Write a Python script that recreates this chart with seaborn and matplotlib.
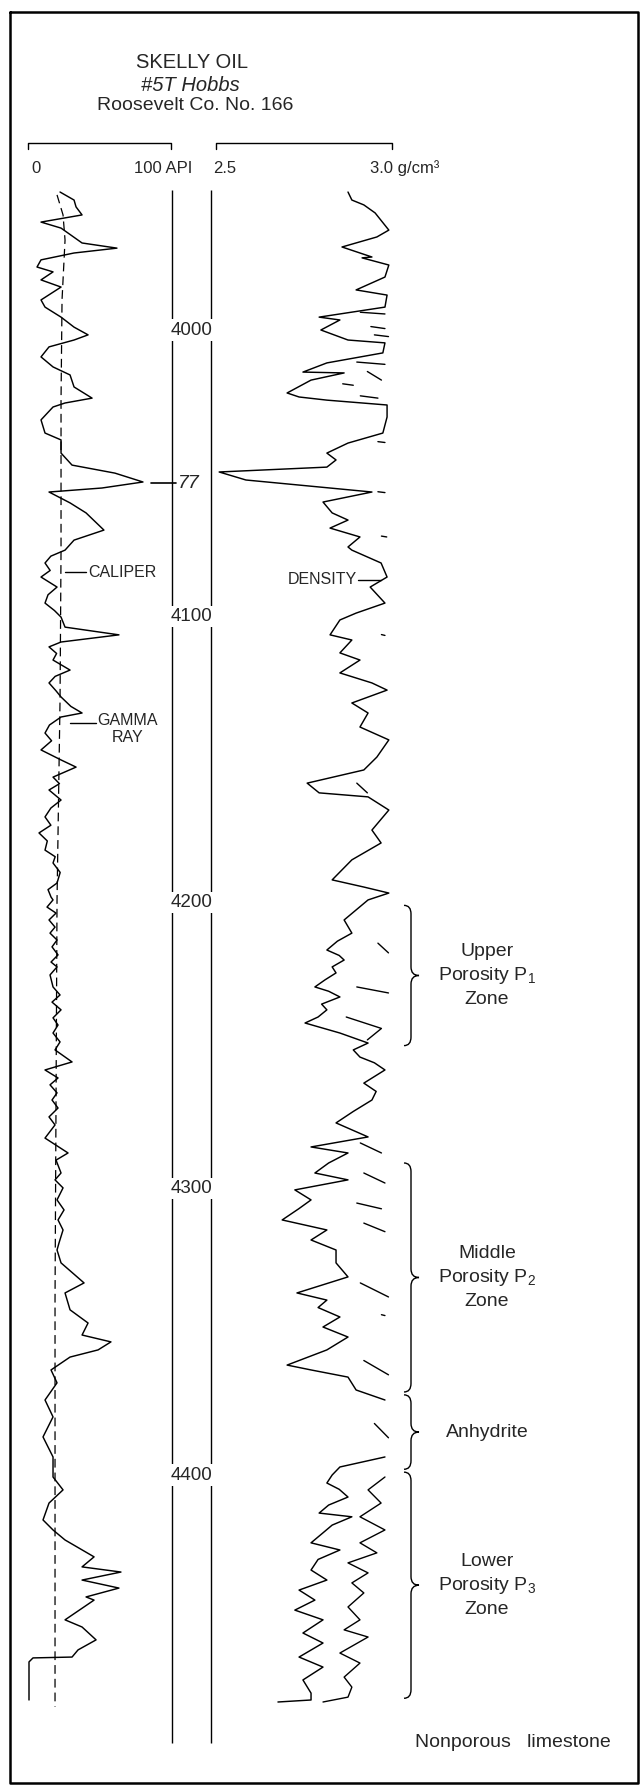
import numpy as np
import pandas as pd
import matplotlib
matplotlib.use("Agg")
import matplotlib.pyplot as plt
import seaborn as sns
from matplotlib.path import Path
from matplotlib.patches import PathPatch

# --- log values (depth in ft) ---
gr_depth = [3951.8, 3954.6, 3957.0, 3959.8, 3962.3, 3964.4, 3969.6, 3971.4, 3973.1, 3975.5,
            3978.0, 3979.7, 3982.5, 3985.0, 3989.5, 3992.0, 3995.5, 3999.0, 4001.7, 4003.5,
            4005.9, 4009.4, 4012.9, 4015.7, 4019.9, 4023.8, 4025.5, 4026.9, 4031.4, 4036.0,
            4038.4, 4043.0, 4047.2, 4050.0, 4053.1, 4055.2, 4056.6, 4060.4, 4063.9, 4069.9,
            4073.4, 4076.9, 4079.0, 4081.4, 4084.0, 4086.3, 4089.8, 4092.5, 4095.4, 4098.0,
            4100.3, 4103.8, 4106.5, 4109.0, 4110.7, 4113.0, 4115.3, 4118.8, 4121.0, 4123.3,
            4126.0, 4128.2, 4131.5, 4133.8, 4135.2, 4138.0, 4140.8, 4143.5, 4146.7, 4150.2,
            4152.7, 4156.2, 4158.5, 4160.7, 4164.2, 4167.0, 4170.1, 4173.0, 4175.7, 4178.5,
            4181.7, 4184.0, 4186.2, 4189.5, 4193.2, 4195.5, 4198.1,
            4199.1, 4201.6, 4203.7, 4206.1, 4208.6, 4210.7, 4213.1, 4215.5, 4218.3, 4220.8,
            4222.5, 4225.3, 4229.5, 4232.3, 4234.8, 4237.5, 4240.3, 4242.8, 4245.6, 4248.7,
            4251.5, 4255.7, 4258.5, 4261.3, 4263.7, 4266.5, 4269.0, 4271.8, 4274.9, 4277.7,
            4282.3, 4287.5, 4290.0, 4294.5, 4296.9, 4299.7, 4303.9, 4307.4, 4310.9, 4314.4,
            4318.9, 4321.4, 4325.9, 4332.9, 4336.4, 4342.3, 4346.9, 4351.1, 4353.5, 4356.3,
            4358.8, 4363.3, 4367.8, 4373.8, 4379.7, 4386.7, 4393.7, 4400.7, 4405.2, 4409.8,
            4415.7, 4419.2, 4422.7, 4428.6, 4432.1, 4433.9, 4436.7, 4439.5, 4442.6, 4443.7,
            4450.6, 4453.1, 4457.6, 4461.1, 4463.6, 4463.9, 4465.3, 4478.6]
gr_api = [22.4, 32.2, 33.6, 37.8, 9.1, 23.1, 37.8, 62.2, 32.2, 9.1,
          6.3, 17.5, 9.1, 23.1, 9.1, 11.9, 23.1, 32.2, 42.0, 32.2,
          14.7, 9.1, 17.5, 29.4, 32.2, 44.8, 25.9, 17.5, 9.1, 11.9,
          23.1, 23.1, 30.8, 60.8, 80.4, 51.7, 14.7, 29.4, 40.6, 53.1,
          32.2, 25.9, 16.0, 11.9, 15.5, 9.1, 20.3, 14.0, 11.9, 18.5,
          23.1, 25.9, 63.6, 23.1, 14.7, 20.0, 17.5, 29.4, 19.0, 14.7,
          19.5, 23.1, 30.0, 37.8, 23.1, 15.0, 11.9, 16.5, 9.1, 23.1,
          33.6, 17.5, 22.0, 14.7, 23.1, 16.0, 11.9, 16.0, 7.7, 13.5,
          11.9, 19.0, 17.5, 22.5, 20.3, 14.0, 16.1,
          17.5, 13.3, 19.6, 14.7, 18.9, 15.4, 20.3, 16.8, 21.0, 16.1,
          20.3, 15.4, 17.5, 22.4, 16.8, 23.1, 17.5, 21.0, 17.5, 22.4,
          18.9, 30.8, 11.9, 21.0, 15.4, 20.3, 16.8, 21.0, 14.7, 18.9,
          11.9, 28.0, 19.6, 23.1, 18.9, 24.5, 20.3, 25.2, 21.0, 24.5,
          21.7, 20.3, 23.1, 39.2, 25.9, 29.4, 42.0, 37.8, 58.0, 49.0,
          29.4, 16.1, 20.3, 11.9, 17.5, 10.5, 17.5, 17.5, 24.5, 14.7,
          10.5, 17.5, 25.9, 46.2, 37.8, 65.0, 37.8, 63.6, 40.6, 46.2,
          25.9, 37.8, 47.6, 35.0, 30.8, 3.5, 0.7, 0.7]

cal_depth = [3952.8, 3959.8, 3968.6, 3989.5, 4024.5, 4076.9, 4129.3, 4199.1, 4269.0, 4338.9, 4408.7, 4481.0]
cal_val = [20.3, 24.5, 25.9, 23.8, 23.1, 23.1, 22.4, 20.3, 19.6, 18.9, 18.9, 18.9]

rhob_depth = [3951.8, 3954.6, 3956.3, 3959.1, 3965.1, 3967.5, 3971.0, 3973.1, 3974.5, 3974.8,
              3977.3, 3981.5, 3986.0, 3987.8, 3992.0, 3995.5, 3996.5, 4000.0, 4003.5, 4004.5,
              4008.0, 4011.5, 4014.7, 4015.0, 4017.5, 4022.0, 4023.4, 4024.5, 4026.2, 4030.4,
              4036.0, 4039.5, 4043.0, 4045.4, 4047.9, 4049.6, 4052.4, 4056.6, 4060.1, 4063.9,
              4066.4, 4069.2, 4072.3, 4075.8, 4076.9, 4081.4, 4086.3, 4089.8, 4095.4, 4098.9,
              4101.3, 4106.5, 4108.3, 4112.8, 4115.3, 4119.8, 4123.3, 4125.8, 4130.3, 4133.8,
              4138.7, 4143.2, 4149.2, 4153.7, 4158.3, 4161.7, 4163.1, 4167.7, 4174.7, 4179.2,
              4185.1, 4192.1, 4194.6, 4196.7, 4199.1, 4202.6, 4206.1, 4210.7, 4213.5, 4216.6,
              4218.5, 4220.1, 4222.5, 4224.6, 4227.0, 4229.5, 4231.0, 4233.0, 4235.5, 4237.5,
              4240.0, 4242.1, 4245.6, 4249.1, 4251.5, 4254.0, 4256.0, 4258.5, 4263.1, 4266.0,
              4269.0, 4273.0, 4277.0, 4281.9, 4285.4, 4287.5, 4291.0, 4294.5, 4296.9, 4300.4,
              4303.9, 4307.0, 4310.9, 4314.4, 4317.9, 4321.4, 4325.9, 4330.8, 4336.4, 4338.9,
              4341.5, 4344.8, 4348.3, 4351.8, 4356.3, 4361.6, 4363.3, 4365.8, 4370.3, 4373.8, np.nan,
              4393.7, 4397.2, 4400.0, 4402.8, 4405.0, 4407.7, 4410.5, 4413.3, 4414.6, 4417.5,
              4420.2, 4423.7, 4426.2, 4429.5, 4433.2, 4436.7, 4440.2, 4443.7, 4447.2, 4450.6,
              4455.2, 4458.7, 4463.6, 4467.1, 4471.6, 4476.2, 4478.6, 4479.3]
rhob_val = [2.875, 2.886, 2.920, 2.952, 2.991, 2.957, 2.858, 2.909, 2.943, 2.915,
            2.991, 2.980, 2.898, 2.986, 2.980, 2.793, 2.852, 2.798, 2.875, 2.980,
            2.974, 2.815, 2.747, 2.864, 2.770, 2.702, 2.736, 2.815, 2.986, 2.986,
            2.974, 2.875, 2.815, 2.841, 2.815, 2.509, 2.585, 2.943, 2.804, 2.830,
            2.875, 2.824, 2.909, 2.875, 2.886, 2.969, 2.986, 2.938, 2.980, 2.898,
            2.852, 2.824, 2.886, 2.852, 2.909, 2.852, 2.943, 2.986, 2.886, 2.932,
            2.909, 2.991, 2.957, 2.920, 2.759, 2.793, 2.932, 2.991, 2.943, 2.969,
            2.886, 2.830, 2.920, 2.991, 2.932, 2.898, 2.864, 2.886, 2.845, 2.815,
            2.850, 2.864, 2.830, 2.841, 2.810, 2.781, 2.820, 2.852, 2.800, 2.815,
            2.790, 2.753, 2.852, 2.932, 2.890, 2.909, 2.950, 2.980, 2.920, 2.955,
            2.943, 2.890, 2.841, 2.932, 2.770, 2.875, 2.820, 2.781, 2.875, 2.724,
            2.770, 2.735, 2.688, 2.815, 2.770, 2.841, 2.841, 2.875, 2.730, 2.815,
            2.790, 2.852, 2.804, 2.875, 2.815, 2.702, 2.770, 2.875, 2.898, 2.980, np.nan,
            2.980, 2.852, 2.830, 2.815, 2.850, 2.875, 2.820, 2.793, 2.886, 2.830,
            2.804, 2.770, 2.852, 2.790, 2.770, 2.815, 2.736, 2.781, 2.724, 2.804,
            2.747, 2.804, 2.736, 2.804, 2.747, 2.770, 2.770, 2.676]

# broken back-up density trace (NaN = pen lifted)
bk_depth = [3993.8, 3994.4, np.nan, 3998.8, 3999.5, np.nan, 4001.7, 4002.3, np.nan,
            4011.2, 4012.0, np.nan, 4014.5, 4017.5, np.nan, 4018.8, 4019.3, np.nan,
            4023.0, 4023.8, np.nan, 4039.0, 4039.3, np.nan, 4056.5, 4056.8, np.nan,
            4072.0, 4072.3, np.nan, 4106.4, 4106.7, np.nan, 4158.3, 4161.7, np.nan,
            4214.2, 4217.6, np.nan, 4229.5, 4231.6, np.nan, 4240.0, 4244.0, 4248.0, np.nan,
            4284.0, 4287.5, np.nan, 4294.5, 4298.0, np.nan, 4305.0, 4307.0, np.nan,
            4312.0, 4315.0, np.nan, 4332.9, 4337.8, np.nan, 4344.0, 4344.3, np.nan,
            4360.0, 4365.0, np.nan, 4382.0, 4387.0, np.nan,
            4400.7, 4405.2, 4409.8, 4414.6, 4419.2, 4423.7, 4427.2, 4430.7, 4434.2, 4437.7,
            4441.2, 4446.1, 4450.6, 4454.1, 4456.6, 4462.2, 4465.7, 4470.6, 4474.1, 4477.6, 4479.3]
bk_val = [2.91, 2.98, np.nan, 2.94, 2.98, np.nan, 2.95, 2.99, np.nan,
          2.90, 2.98, np.nan, 2.93, 2.97, np.nan, 2.86, 2.89, np.nan,
          2.91, 2.96, np.nan, 2.96, 2.98, np.nan, 2.96, 2.98, np.nan,
          2.97, 2.985, np.nan, 2.97, 2.98, np.nan, 2.90, 2.93, np.nan,
          2.96, 2.99, np.nan, 2.90, 2.99, np.nan, 2.87, 2.97, 2.93, np.nan,
          2.91, 2.97, np.nan, 2.92, 2.98, np.nan, 2.90, 2.97, np.nan,
          2.92, 2.98, np.nan, 2.91, 2.99, np.nan, 2.97, 2.98, np.nan,
          2.92, 2.99, np.nan, 2.95, 2.99, np.nan,
          2.980, 2.932, 2.969, 2.909, 2.980, 2.909, 2.957, 2.875, 2.932, 2.886,
          2.920, 2.875, 2.909, 2.864, 2.932, 2.852, 2.909, 2.864, 2.886, 2.875, 2.804]

depth_ticks = [4000, 4100, 4200, 4300, 4400]
zone_labels = ["Upper\nPorosity P$_{\\mathregular{1}}$\nZone",
               "Middle\nPorosity P$_{\\mathregular{2}}$\nZone",
               "Anhydrite",
               "Lower\nPorosity P$_{\\mathregular{3}}$\nZone"]
zone_top = [4201, 4291, 4372, 4399]
zone_base = [4250, 4371, 4398, 4478]

# --- layout (pixels of the 642 x 1786 page) ---
W, H = 642, 1786
PX_4000, PX_PER_FT = 330, 2.8625


def d(ypx):
    return 4000 + (ypx - PX_4000) / PX_PER_FT


YLIM = (d(H), d(0))


def segments(depth, val):
    df = pd.DataFrame({"depth": depth, "val": val})
    df["seg"] = df["val"].isna().cumsum()
    return df.dropna()


sns.set_theme(style="white")
plt.rcParams["font.family"] = ["Liberation Sans", "DejaVu Sans"]
plt.rcParams["mathtext.fontset"] = "custom"
plt.rcParams["mathtext.rm"] = "Liberation Sans"

fig = plt.figure(figsize=(W / 100, H / 100), dpi=100)
fig.patch.set_facecolor("white")


def track(x0, x1):
    return fig.add_axes([x0 / W, 0, (x1 - x0) / W, 1])


ax_gr = track(28, 171)
ax_rho = track(216, 392)
ax_dep = track(172, 211)
ax = track(0, W)  # annotation layer: x in pixels, y in depth

lw = 1.05
sns.lineplot(x=gr_api, y=gr_depth, sort=False, estimator=None, color="black",
             linewidth=lw, ax=ax_gr)
sns.lineplot(x=cal_val, y=cal_depth, sort=False, estimator=None, color="black",
             linewidth=0.9, linestyle=(0, (7, 4)), ax=ax_gr)
ax_gr.set_xlim(0, 100)

rho = segments(rhob_depth, rhob_val)
sns.lineplot(data=rho, x="val", y="depth", units="seg", sort=False, estimator=None,
             color="black", linewidth=lw, ax=ax_rho)
bk = segments(bk_depth, bk_val)
sns.lineplot(data=bk, x="val", y="depth", units="seg", sort=False, estimator=None,
             color="black", linewidth=1.0, ax=ax_rho)
ax_rho.set_xlim(2.5, 3.0)

# depth column
ax_dep.vlines([0, 1], d(190), d(1743), color="black", linewidth=1.0, clip_on=False)
for t in depth_ticks:
    ax_dep.text(0.5, t, str(t), ha="center", va="center", fontsize=13.5,
                bbox=dict(facecolor="white", edgecolor="none", pad=1.5))
ax_dep.set_xlim(0, 1)

for a in (ax_gr, ax_rho, ax_dep, ax):
    a.set_ylim(*YLIM)
    a.axis("off")
ax.set_xlim(0, W)

# page frame
ax.plot([10, 638, 638, 10, 10], [d(12), d(12), d(1783), d(1783), d(12)],
        color="black", linewidth=1.8, clip_on=False)

# header
ax.text(192, d(63), "SKELLY OIL", ha="center", va="center", fontsize=14.5)
ax.text(190, d(85), "#5T Hobbs", ha="center", va="center", fontsize=14.5, style="italic")
ax.text(195, d(106), "Roosevelt Co. No. 166", ha="center", va="center", fontsize=14)

# scale brackets
for x0, x1 in [(28, 171), (216, 392)]:
    ax.plot([x0, x0, x1, x1], [d(149), d(143), d(143), d(149)], color="black", linewidth=1.0)
ax.text(31, d(168), "0", ha="left", va="center", fontsize=12)
ax.text(192, d(168), "100 API", ha="right", va="center", fontsize=12)
ax.text(213, d(168), "2.5", ha="left", va="center", fontsize=12)
ax.text(370, d(168), "3.0 g/cm³", ha="left", va="center", fontsize=12)

# curve labels
ax.plot([65, 86], [d(572), d(572)], color="black", linewidth=1.0)
ax.text(88, d(572), "CALIPER", ha="left", va="center", fontsize=11.5)
ax.plot([70, 96], [d(723), d(723)], color="black", linewidth=1.0)
ax.text(128, d(713), "GAMMA\nRAY", ha="center", va="top", fontsize=11.5, linespacing=1.15)
ax.plot([358, 381], [d(580), d(580)], color="black", linewidth=1.0)
ax.text(357, d(580), "DENSITY", ha="right", va="center", fontsize=11.5)
ax.plot([151, 176], [d(483), d(483)], color="black", linewidth=1.2)
ax.text(189, d(483), "77", ha="center", va="center", fontsize=14, style="italic")


def brace(y0, y1, xl=404, xs=411, xt=419, h=3.0):
    ym = (y0 + y1) / 2
    verts = [(xl, y0), (xs, y0), (xs, y0 + h), (xs, ym - h), (xs, ym), (xt, ym),
             (xs, ym), (xs, ym + h), (xs, y1 - h), (xs, y1), (xl, y1)]
    codes = [Path.MOVETO, Path.CURVE3, Path.CURVE3, Path.LINETO, Path.CURVE3, Path.CURVE3,
             Path.CURVE3, Path.CURVE3, Path.LINETO, Path.CURVE3, Path.CURVE3]
    ax.add_patch(PathPatch(Path(verts, codes), facecolor="none", edgecolor="black",
                           linewidth=1.0))


for name, top, base in zip(zone_labels, zone_top, zone_base):
    brace(top, base)
    ax.text(487, (top + base) / 2, name, ha="center", va="center", fontsize=14,
            linespacing=1.35, multialignment="center")

ax.text(415, d(1742), "Nonporous   limestone", ha="left", va="center", fontsize=14)

fig.savefig("out.png", dpi=100)
